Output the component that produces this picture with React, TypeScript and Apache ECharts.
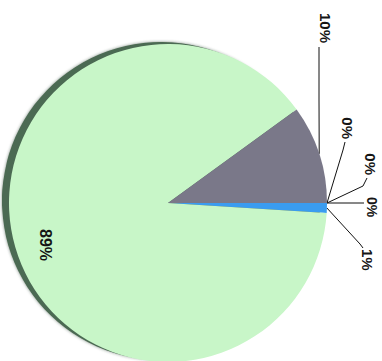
import React, { useEffect, useRef } from "react";
import * as echarts from "echarts";

// Data
const CATEGORIES = ["Slice A", "Slice B", "Slice C", "Slice D", "Slice E", "Slice F"];
const VALUES = [1, 89, 10, 0, 0, 0];
const COLORS = ["#3a9cf0", "#c8f6c8", "#7a7889", "#7a7889", "#7a7889", "#7a7889"];

// Layout (unrotated chart coordinates; the whole chart is turned 90° clockwise)
const W = 361;
const H = 382;
const CX = 203;
const CY = 214;
const R = 159;
const SHADOW_DX = -2;
const SHADOW_DY = 7;

type LabelPos = { x: number; y: number; align: string; size: number; bends: number[][] | null };
const LABEL_POS: LabelPos[] = [
  { x: 249, y: 15, align: "left", size: 15, bends: [[244, 22], [248, 19]] },
  { x: 245, y: 337, align: "center", size: 16, bends: null },
  { x: 43, y: 57, align: "right", size: 15, bends: [[100, 63], [47, 63]] },
  { x: 139, y: 35, align: "right", size: 15, bends: [[150, 39], [142, 37]] },
  { x: 175, y: 12, align: "right", size: 15, bends: [[186, 19], [178, 15]] },
  { x: 207, y: 10, align: "center", size: 14, bends: [[203, 30], [203, 18]] },
];

function rimPoint(index: number): number[] {
  const total = VALUES.reduce((a, b) => a + b, 0);
  let before = 0;
  for (let i = 0; i < index; i++) before += VALUES[i];
  const mid = (before + VALUES[index] / 2) / total;
  const th = mid * Math.PI * 2;
  return [CX + R * Math.sin(th), CY - R * Math.cos(th)];
}

export default function App() {
  const ref = useRef<HTMLDivElement>(null);

  useEffect(() => {
    if (!ref.current) return;
    const chart = echarts.init(ref.current, null, { renderer: "svg" });
    const data = CATEGORIES.map((name, i) => ({
      name,
      value: VALUES[i],
      itemStyle: { color: COLORS[i] },
      label: { fontSize: LABEL_POS[i].size },
      labelLine: { show: LABEL_POS[i].bends !== null },
    }));
    const shadowData = CATEGORIES.map((name, i) => ({
      name,
      value: VALUES[i],
      itemStyle: { color: "#4b6a52" },
    }));
    chart.setOption({
      animation: false,
      backgroundColor: "#ffffff",
      series: [
        {
          type: "pie",
          silent: true,
          z: 1,
          center: [CX + SHADOW_DX, CY + SHADOW_DY],
          radius: [0, R],
          startAngle: 90,
          clockwise: true,
          label: { show: false },
          labelLine: { show: false },
          itemStyle: { borderWidth: 0, shadowBlur: 3, shadowColor: "rgba(40,60,45,0.6)" },
          data: shadowData,
        },
        {
          type: "pie",
          z: 2,
          center: [CX, CY],
          radius: [0, R],
          startAngle: 90,
          clockwise: true,
          avoidLabelOverlap: false,
          itemStyle: { borderWidth: 0 },
          label: {
            show: true,
            position: "outside",
            formatter: (p: any) => Math.round(p.percent) + "%",
            fontFamily: "Liberation Sans, Arial, sans-serif",
            fontWeight: "bold",
            fontSize: 15,
            color: "#151515",
          },
          labelLine: {
            show: true,
            lineStyle: { color: "#111111", width: 1 },
          },
          labelLayout: (params: any) => {
            const pos = LABEL_POS[params.dataIndex];
            const out: any = {
              x: pos.x,
              y: pos.y,
              align: pos.align,
              verticalAlign: "middle",
              hideOverlap: false,
            };
            if (pos.bends) {
              out.labelLinePoints = [rimPoint(params.dataIndex), ...pos.bends];
            }
            return out;
          },
          data,
        },
      ],
    });
    return () => chart.dispose();
  }, []);

  return (
    <div
      style={{
        position: "fixed",
        left: 0,
        top: 0,
        width: 382,
        height: 361,
        overflow: "hidden",
        background: "#ffffff",
      }}
    >
      <div
        ref={ref}
        style={{
          position: "absolute",
          left: 0,
          top: 0,
          width: W,
          height: H,
          transformOrigin: "0 0",
          transform: "translate(382px, 0px) rotate(90deg)",
        }}
      />
    </div>
  );
}
